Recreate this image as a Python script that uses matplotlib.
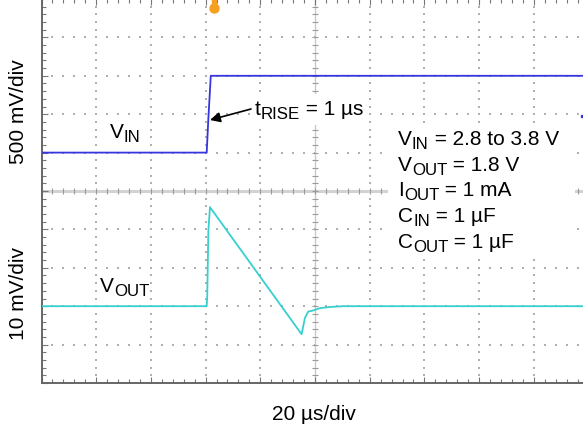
import matplotlib
matplotlib.use("Agg")
import matplotlib.pyplot as plt
import numpy as np
from matplotlib.patches import Rectangle

plt.rcParams['font.family'] = ['Liberation Sans', 'DejaVu Sans']

# ---- data ----
# VIN trace: time in microseconds, voltage in volts (500 mV/div)
vin_t_us = [0.0, 60.4, 61.0, 61.9, 200.0]
vin_v = [2.8, 2.8, 3.24, 3.8, 3.8]
# VOUT trace: time in microseconds, deviation from 1.8 V in mV (10 mV/div)
vout_t_us = [0.0, 60.4, 60.6, 61.0, 61.6, 95.1, 96.3, 97.5, 99.4, 101.8, 105.5, 110.2, 200.0]
vout_mv = [0.0, 0.0, 2.6, 19.5, 25.8, -7.3, -3.1, -1.4, -1.1, -0.5, -0.2, 0.0, 0.0]

# scope settings
time_per_div = 20.0     # us/div
vin_per_div = 0.5       # V/div
vin_ref = 2.8           # V at VIN reference division
vin_ref_div = 6.0
vout_per_div = 10.0     # mV/div
vout_ref_div = 2.0

# conditions block: (main, subscript, rest)
info_lines = [('V', 'IN', ' = 2.8 to 3.8 V'),
              ('V', 'OUT', ' = 1.8 V'),
              ('I', 'OUT', ' = 1 mA'),
              ('C', 'IN', ' = 1 µF'),
              ('C', 'OUT', ' = 1 µF')]

# ---- figure ----
W_PX, H_PX = 583, 431
fig = plt.figure(figsize=(W_PX / 100, H_PX / 100), dpi=100)
X0, Y0, DX, DY = 41.5, 384.0, 54.7, 38.4   # pixel geometry of the screen
ax = fig.add_axes([X0 / W_PX, (H_PX - Y0) / H_PX, 10 * DX / W_PX, 10 * DY / H_PX])
ax.set_xlim(0, 10)
ax.set_ylim(0, 10)

def px2x(px):
    return (px - X0) / DX

def px2y(py):
    return (Y0 - py) / DY

FS, SFS = 15, 12.2

def sub_text(xp, yp, main, sub, rest):
    t1 = ax.text(px2x(xp), px2y(yp), main, fontsize=FS, ha='left', va='baseline', zorder=4)
    t2 = ax.annotate(sub, xy=(1, 0), xycoords=t1, fontsize=SFS, ha='left', va='baseline',
                     zorder=4, annotation_clip=False)
    if rest:
        ax.annotate(rest, xy=(1, 0), xycoords=(t2, t1), fontsize=FS, ha='left', va='bottom',
                    zorder=4, annotation_clip=False)

# spines and edge ticks
for s in ax.spines.values():
    s.set_color('#666666')
    s.set_linewidth(1.4)
ax.set_xticks(np.arange(0, 11, 1))
ax.set_yticks(np.arange(0, 11, 1))
ax.set_xticks(np.arange(0, 10.01, 0.2), minor=True)
ax.set_yticks(np.arange(0, 10.01, 0.2), minor=True)
ax.tick_params(which='both', direction='in', top=True, right=True,
               labelbottom=False, labelleft=False, color='#777777', width=0.8)
ax.tick_params(which='major', length=4)
ax.tick_params(which='minor', length=3)

# dotted graticule
minor = np.arange(0, 10.01, 0.2)
gx, gy = [], []
for m in range(1, 10):
    if m == 5:
        continue
    gx += [m] * len(minor)
    gy += list(minor)
    gx += list(minor)
    gy += [m] * len(minor)
ax.scatter(gx, gy, s=1.2, marker='s', color='#b0b0b0', linewidths=0, zorder=1)

# centre axes with ticks
ax.axhline(5, color='#d2d2d2', lw=2.2, zorder=1)
ax.axvline(5, color='#c8c8c8', lw=1.0, zorder=1)
ax.scatter(minor, [5] * len(minor), marker='|', s=20, color='#9a9a9a', linewidths=0.8, zorder=1.5)
ax.scatter([5] * len(minor), minor, marker='_', s=20, color='#9a9a9a', linewidths=0.8, zorder=1.5)

# traces
vin_x = np.array(vin_t_us) / time_per_div
vin_y = vin_ref_div + (np.array(vin_v) - vin_ref) / vin_per_div
vout_x = np.array(vout_t_us) / time_per_div
vout_y = vout_ref_div + np.array(vout_mv) / vout_per_div
ax.plot(vin_x, vin_y, color='#3535e0', lw=1.3, zorder=3)
ax.plot(vout_x, vout_y, color='#36d0d0', lw=1.3, zorder=3)

# trigger marker and channel marker
ax.plot([px2x(213.5)], [px2y(2)], marker='s', ms=3, color='#f5a020', clip_on=False, zorder=5)
ax.plot([px2x(213.5)], [px2y(9.5)], marker='o', ms=6.5, color='#f5a020', clip_on=False, zorder=5)
ax.plot([px2x(582)], [px2y(117)], marker='s', ms=2, color='#3535e0', clip_on=False, zorder=5)

# labels on traces
sub_text(110, 138, 'V', 'IN', '')
sub_text(100, 292, 'V', 'OUT', '')

# rise-time annotation
ax.add_patch(Rectangle((px2x(252), px2y(126)), px2x(369) - px2x(252), px2y(95) - px2y(126),
                       facecolor='white', edgecolor='none', zorder=2))
sub_text(255, 115, 't', 'RISE', ' = 1 µs')
ax.annotate('', xy=(px2x(210), px2y(121)), xytext=(px2x(251), px2y(110)),
            arrowprops=dict(arrowstyle='-|>', color='black', lw=1.2, mutation_scale=15,
                            shrinkA=0, shrinkB=0), zorder=4)

# conditions block
ax.add_patch(Rectangle((px2x(388), px2y(255)), px2x(575) - px2x(388), px2y(125) - px2y(255),
                       facecolor='white', edgecolor='none', zorder=2))
baselines = [145, 170.7, 196.4, 222, 247.8]
for (m, sb, rest), b in zip(info_lines, baselines):
    sub_text(398, b, m, sb, rest)

# axis captions
fig.text(19 / W_PX, 1 - 112 / H_PX, '500 mV/div', rotation=90, ha='center', va='center', fontsize=FS)
fig.text(19 / W_PX, 1 - 294 / H_PX, '10 mV/div', rotation=90, ha='center', va='center', fontsize=FS)
fig.text(314 / W_PX, 1 - 415 / H_PX, '20 µs/div', ha='center', va='center', fontsize=FS)

fig.savefig('out.png', dpi=100)
